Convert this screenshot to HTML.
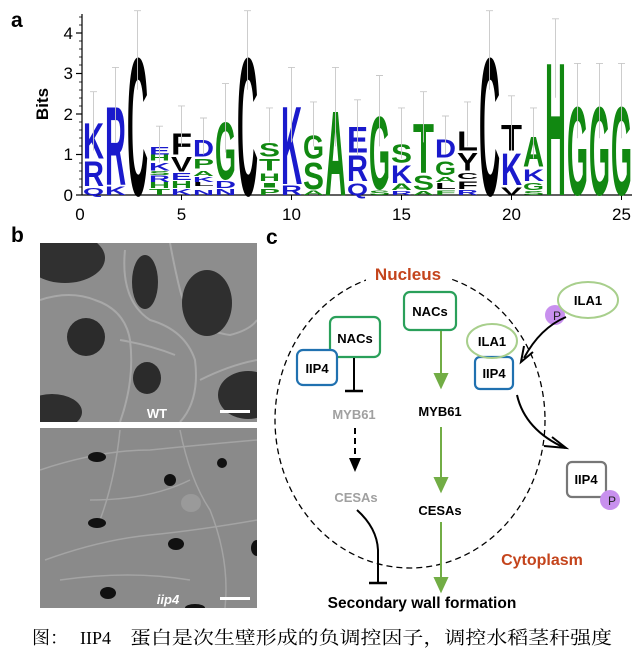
<!DOCTYPE html>
<html><head><meta charset="utf-8"><style>
html,body{margin:0;padding:0;background:#fff;}
svg{display:block;}
</style></head><body>
<svg width="640" height="658" viewBox="0 0 640 658" xmlns="http://www.w3.org/2000/svg" font-family="Liberation Sans, Arial, sans-serif">
<!-- Panel a -->
<text x="11" y="27" font-size="21" font-weight="bold">a</text>
<text transform="translate(48,104) rotate(-90)" font-size="17" font-weight="bold" text-anchor="middle">Bits</text>
<g stroke="#000" stroke-width="1.2">
<line x1="82" y1="14" x2="82" y2="195"/>
<line x1="82" y1="195" x2="632" y2="195"/>
<line x1="76" y1="195" x2="82" y2="195"/><line x1="76" y1="154.5" x2="82" y2="154.5"/><line x1="76" y1="114" x2="82" y2="114"/><line x1="76" y1="73.5" x2="82" y2="73.5"/><line x1="76" y1="33" x2="82" y2="33"/>
</g>
<g stroke="#000" stroke-width="0.8">
<line x1="79" y1="187" x2="82" y2="187"/><line x1="79" y1="179" x2="82" y2="179"/><line x1="79" y1="171" x2="82" y2="171"/><line x1="79" y1="163" x2="82" y2="163"/>
<line x1="79" y1="146" x2="82" y2="146"/><line x1="79" y1="138" x2="82" y2="138"/><line x1="79" y1="130" x2="82" y2="130"/><line x1="79" y1="122" x2="82" y2="122"/>
<line x1="79" y1="106" x2="82" y2="106"/><line x1="79" y1="98" x2="82" y2="98"/><line x1="79" y1="90" x2="82" y2="90"/><line x1="79" y1="82" x2="82" y2="82"/>
<line x1="79" y1="65" x2="82" y2="65"/><line x1="79" y1="57" x2="82" y2="57"/><line x1="79" y1="49" x2="82" y2="49"/><line x1="79" y1="41" x2="82" y2="41"/>
<line x1="79" y1="25" x2="82" y2="25"/><line x1="79" y1="17" x2="82" y2="17"/>
</g>
<g font-size="17" text-anchor="end"><text x="73" y="201">0</text><text x="73" y="160">1</text><text x="73" y="120">2</text><text x="73" y="79">3</text><text x="73" y="39">4</text></g>
<g stroke="#000" stroke-width="1">
<line x1="181.5" y1="195" x2="181.5" y2="200"/><line x1="291.5" y1="195" x2="291.5" y2="200"/><line x1="401.5" y1="195" x2="401.5" y2="200"/><line x1="511.5" y1="195" x2="511.5" y2="200"/><line x1="621.5" y1="195" x2="621.5" y2="200"/>
</g>
<g font-size="17" text-anchor="middle"><text x="80" y="220">0</text><text x="181.5" y="220">5</text><text x="291.5" y="220">10</text><text x="401.5" y="220">15</text><text x="511.5" y="220">20</text><text x="621.5" y="220">25</text></g>

<g font-weight="bold">
<text x="83" y="195" font-size="10.1" textLength="21" lengthAdjust="spacingAndGlyphs" fill="#1a1acc">Q</text>
<text x="83" y="186.1" font-size="35.4" textLength="21" lengthAdjust="spacingAndGlyphs" fill="#1a1acc">R</text>
<text x="83" y="158.5" font-size="50.6" textLength="21" lengthAdjust="spacingAndGlyphs" fill="#1a1acc">K</text>
<text x="105" y="195" font-size="12.4" textLength="21" lengthAdjust="spacingAndGlyphs" fill="#1a1acc">K</text>
<text x="105" y="184.9" font-size="112.5" textLength="21" lengthAdjust="spacingAndGlyphs" fill="#1a1acc">R</text>
<text x="127" y="195" font-size="197" textLength="21" lengthAdjust="spacingAndGlyphs" fill="#000">C</text>
<text x="149" y="195" font-size="8.4" textLength="21" lengthAdjust="spacingAndGlyphs" fill="#118811">T</text>
<text x="149" y="188.1" font-size="8.4" textLength="21" lengthAdjust="spacingAndGlyphs" fill="#118811">H</text>
<text x="149" y="182.1" font-size="9.6" textLength="21" lengthAdjust="spacingAndGlyphs" fill="#1a1acc">R</text>
<text x="149" y="174.8" font-size="5.6" textLength="21" lengthAdjust="spacingAndGlyphs" fill="#118811">S</text>
<text x="149" y="170.7" font-size="11.2" textLength="21" lengthAdjust="spacingAndGlyphs" fill="#1a1acc">K</text>
<text x="149" y="160.6" font-size="8.4" textLength="21" lengthAdjust="spacingAndGlyphs" fill="#118811">H</text>
<text x="149" y="154.5" font-size="11.2" textLength="21" lengthAdjust="spacingAndGlyphs" fill="#1a1acc">E</text>
<text x="171" y="195" font-size="8.4" textLength="21" lengthAdjust="spacingAndGlyphs" fill="#1a1acc">K</text>
<text x="171" y="188.1" font-size="10.1" textLength="21" lengthAdjust="spacingAndGlyphs" fill="#118811">H</text>
<text x="171" y="180" font-size="10.1" textLength="21" lengthAdjust="spacingAndGlyphs" fill="#1a1acc">E</text>
<text x="171" y="171.5" font-size="20.8" textLength="21" lengthAdjust="spacingAndGlyphs" fill="#000">V</text>
<text x="171" y="154.5" font-size="30.9" textLength="21" lengthAdjust="spacingAndGlyphs" fill="#000">F</text>
<text x="193" y="195" font-size="7.3" textLength="21" lengthAdjust="spacingAndGlyphs" fill="#1a1acc">N</text>
<text x="193" y="186.1" font-size="5.6" textLength="21" lengthAdjust="spacingAndGlyphs" fill="#000">L</text>
<text x="193" y="182" font-size="7.3" textLength="21" lengthAdjust="spacingAndGlyphs" fill="#1a1acc">K</text>
<text x="193" y="176" font-size="7.3" textLength="21" lengthAdjust="spacingAndGlyphs" fill="#118811">A</text>
<text x="193" y="168.7" font-size="14.1" textLength="21" lengthAdjust="spacingAndGlyphs" fill="#118811">P</text>
<text x="193" y="156.5" font-size="24.2" textLength="21" lengthAdjust="spacingAndGlyphs" fill="#1a1acc">D</text>
<text x="215" y="195" font-size="8.4" textLength="21" lengthAdjust="spacingAndGlyphs" fill="#1a1acc">N</text>
<text x="215" y="188.1" font-size="10.1" textLength="21" lengthAdjust="spacingAndGlyphs" fill="#1a1acc">D</text>
<text x="215" y="178.8" font-size="82" textLength="21" lengthAdjust="spacingAndGlyphs" fill="#118811">G</text>
<text x="237" y="195" font-size="197" textLength="21" lengthAdjust="spacingAndGlyphs" fill="#000">C</text>
<text x="259" y="195" font-size="8.4" textLength="21" lengthAdjust="spacingAndGlyphs" fill="#118811">P</text>
<text x="259" y="187.7" font-size="6.7" textLength="21" lengthAdjust="spacingAndGlyphs" fill="#118811">I</text>
<text x="259" y="180.8" font-size="11.2" textLength="21" lengthAdjust="spacingAndGlyphs" fill="#118811">H</text>
<text x="259" y="170.7" font-size="16.9" textLength="21" lengthAdjust="spacingAndGlyphs" fill="#118811">T</text>
<text x="259" y="156.5" font-size="19.7" textLength="21" lengthAdjust="spacingAndGlyphs" fill="#118811">S</text>
<text x="281" y="195" font-size="14.1" textLength="21" lengthAdjust="spacingAndGlyphs" fill="#1a1acc">R</text>
<text x="281" y="184.1" font-size="111.4" textLength="21" lengthAdjust="spacingAndGlyphs" fill="#1a1acc">K</text>
<text x="303" y="195" font-size="6.7" textLength="21" lengthAdjust="spacingAndGlyphs" fill="#118811">A</text>
<text x="303" y="188.9" font-size="38" textLength="21" lengthAdjust="spacingAndGlyphs" fill="#118811">S</text>
<text x="303" y="158.5" font-size="33" textLength="21" lengthAdjust="spacingAndGlyphs" fill="#118811">G</text>
<text x="325" y="195" font-size="120.9" textLength="21" lengthAdjust="spacingAndGlyphs" fill="#118811">A</text>
<text x="347" y="195" font-size="16.9" textLength="21" lengthAdjust="spacingAndGlyphs" fill="#1a1acc">Q</text>
<text x="347" y="180.8" font-size="36.6" textLength="21" lengthAdjust="spacingAndGlyphs" fill="#1a1acc">R</text>
<text x="347" y="152.5" font-size="36.6" textLength="21" lengthAdjust="spacingAndGlyphs" fill="#1a1acc">E</text>
<text x="369" y="195" font-size="6.7" textLength="21" lengthAdjust="spacingAndGlyphs" fill="#118811">S</text>
<text x="369" y="188.9" font-size="104" textLength="21" lengthAdjust="spacingAndGlyphs" fill="#118811">G</text>
<text x="391" y="195" font-size="5.6" textLength="21" lengthAdjust="spacingAndGlyphs" fill="#1a1acc">R</text>
<text x="391" y="190.1" font-size="9" textLength="21" lengthAdjust="spacingAndGlyphs" fill="#118811">A</text>
<text x="391" y="182.9" font-size="25.3" textLength="21" lengthAdjust="spacingAndGlyphs" fill="#1a1acc">K</text>
<text x="391" y="162.6" font-size="26" textLength="21" lengthAdjust="spacingAndGlyphs" fill="#118811">S</text>
<text x="413" y="195" font-size="5.6" textLength="21" lengthAdjust="spacingAndGlyphs" fill="#118811">A</text>
<text x="413" y="190.1" font-size="21" textLength="21" lengthAdjust="spacingAndGlyphs" fill="#118811">S</text>
<text x="413" y="172.7" font-size="70.3" textLength="21" lengthAdjust="spacingAndGlyphs" fill="#118811">T</text>
<text x="435" y="195" font-size="6.7" textLength="21" lengthAdjust="spacingAndGlyphs" fill="#118811">F</text>
<text x="435" y="188.9" font-size="8.4" textLength="21" lengthAdjust="spacingAndGlyphs" fill="#000">L</text>
<text x="435" y="182" font-size="7.3" textLength="21" lengthAdjust="spacingAndGlyphs" fill="#118811">A</text>
<text x="435" y="174.8" font-size="19.2" textLength="21" lengthAdjust="spacingAndGlyphs" fill="#118811">G</text>
<text x="435" y="157.7" font-size="25.9" textLength="21" lengthAdjust="spacingAndGlyphs" fill="#1a1acc">D</text>
<text x="457" y="195" font-size="7.3" textLength="21" lengthAdjust="spacingAndGlyphs" fill="#1a1acc">R</text>
<text x="457" y="188.9" font-size="11.2" textLength="21" lengthAdjust="spacingAndGlyphs" fill="#000">F</text>
<text x="457" y="178.8" font-size="8.4" textLength="21" lengthAdjust="spacingAndGlyphs" fill="#000">C</text>
<text x="457" y="170.7" font-size="25.3" textLength="21" lengthAdjust="spacingAndGlyphs" fill="#000">Y</text>
<text x="457" y="150.5" font-size="28.1" textLength="21" lengthAdjust="spacingAndGlyphs" fill="#000">L</text>
<text x="479" y="195" font-size="197" textLength="21" lengthAdjust="spacingAndGlyphs" fill="#000">C</text>
<text x="501" y="195" font-size="11.2" textLength="21" lengthAdjust="spacingAndGlyphs" fill="#000">V</text>
<text x="501" y="184.9" font-size="45" textLength="21" lengthAdjust="spacingAndGlyphs" fill="#1a1acc">K</text>
<text x="501" y="150.5" font-size="36.6" textLength="21" lengthAdjust="spacingAndGlyphs" fill="#000">T</text>
<text x="523" y="195" font-size="5.6" textLength="21" lengthAdjust="spacingAndGlyphs" fill="#118811">S</text>
<text x="523" y="190.1" font-size="10.1" textLength="21" lengthAdjust="spacingAndGlyphs" fill="#118811">G</text>
<text x="523" y="180.8" font-size="16.9" textLength="21" lengthAdjust="spacingAndGlyphs" fill="#1a1acc">K</text>
<text x="523" y="166.6" font-size="42.2" textLength="21" lengthAdjust="spacingAndGlyphs" fill="#118811">A</text>
<text x="545" y="195" font-size="190" textLength="21" lengthAdjust="spacingAndGlyphs" fill="#118811">H</text>
<text x="567" y="195" font-size="126" textLength="21" lengthAdjust="spacingAndGlyphs" fill="#118811">G</text>
<text x="589" y="195" font-size="126" textLength="21" lengthAdjust="spacingAndGlyphs" fill="#118811">G</text>
<text x="611" y="195" font-size="126" textLength="21" lengthAdjust="spacingAndGlyphs" fill="#118811">G</text>
</g>
<g stroke="#c8c8c8" stroke-width="0.9">
<path d="M93.5 150.5V91.7M90 91.7h7 M115.5 142.4V67.4M112 67.4h7 M137.5 89.7V10.7M134 10.7h7 M159.5 162.6V126.2M156 126.2h7 M181.5 146.4V105.9M178 105.9h7 M203.5 154.5V118M200 118h7 M225.5 152.5V83.6M222 83.6h7 M247.5 89.7V10.7M244 10.7h7 M269.5 142.4V107.9M266 107.9h7 M291.5 142.4V67.4M288 67.4h7 M313.5 146.4V101.9M310 101.9h7 M335.5 146.4V67.4M332 67.4h7 M357.5 154.5V99.8M354 99.8h7 M379.5 146.4V75.5M376 75.5h7 M401.5 158.5V107.9M398 107.9h7 M423.5 142.4V91.7M420 91.7h7 M445.5 154.5V116M442 116h7 M467.5 146.4V101.9M464 101.9h7 M489.5 89.7V10.7M486 10.7h7 M511.5 150.5V95.8M508 95.8h7 M533.5 158.5V107.9M530 107.9h7 M555.5 97.8V18.8M552 18.8h7 M577.5 138.3V63.4M574 63.4h7 M599.5 138.3V63.4M596 63.4h7 M621.5 138.3V63.4M618 63.4h7" fill="none"/>
</g>

<!-- Panel b -->
<text x="11" y="242" font-size="21" font-weight="bold">b</text>
<defs>
<clipPath id="c1"><rect x="40" y="243" width="217" height="179"/></clipPath>
<clipPath id="c2"><rect x="40" y="428" width="217" height="180"/></clipPath>
</defs>
<g clip-path="url(#c1)">
<rect x="40" y="243" width="217" height="179" fill="#8d8d8d"/>
<g fill="none" stroke="#a8a8a8" stroke-width="2">
<path d="M40 300 Q70 290 95 300 Q125 310 130 340 Q135 380 120 422"/>
<path d="M125 250 Q120 300 150 320 Q185 330 195 360 Q200 400 180 422"/>
<path d="M170 243 Q175 270 180 290 Q190 330 230 335 Q250 330 257 320"/>
<path d="M120 340 Q150 345 175 355"/>
<path d="M200 380 Q230 365 257 360"/>
</g>
<ellipse cx="65" cy="258" rx="40" ry="25" fill="#303030"/>
<ellipse cx="145" cy="282" rx="13" ry="27" fill="#2d2d2d"/>
<ellipse cx="207" cy="303" rx="25" ry="33" fill="#2f2f2f"/>
<ellipse cx="86" cy="337" rx="19" ry="19" fill="#2b2b2b"/>
<ellipse cx="147" cy="378" rx="14" ry="16" fill="#2b2b2b"/>
<ellipse cx="248" cy="395" rx="30" ry="24" fill="#2e2e2e"/>
<ellipse cx="52" cy="412" rx="30" ry="18" fill="#2e2e2e"/>
<text x="157" y="418" font-size="13" font-weight="bold" fill="#fff" text-anchor="middle">WT</text>
<rect x="220" y="410" width="30" height="3" fill="#fff"/>
</g>
<g clip-path="url(#c2)">
<rect x="40" y="428" width="217" height="180" fill="#8a8a8a"/>
<g fill="none" stroke="#a4a4a4" stroke-width="1.5">
<path d="M40 470 Q100 450 150 450 Q200 445 257 440"/>
<path d="M90 500 Q150 500 190 480"/>
<path d="M45 560 Q100 540 150 535 Q200 530 257 520"/>
<path d="M180 430 Q190 480 210 510 Q230 560 225 608"/>
<path d="M120 430 Q115 480 100 520"/>
<path d="M60 580 Q130 570 190 580"/>
</g>
<ellipse cx="191" cy="503" rx="10" ry="9" fill="#9a9a9a"/>
<ellipse cx="97" cy="457" rx="9" ry="5" fill="#111"/>
<ellipse cx="170" cy="480" rx="6" ry="6" fill="#111"/>
<ellipse cx="222" cy="463" rx="5" ry="5" fill="#111"/>
<ellipse cx="97" cy="523" rx="9" ry="5" fill="#111"/>
<ellipse cx="176" cy="544" rx="8" ry="6" fill="#111"/>
<ellipse cx="257" cy="548" rx="6" ry="8" fill="#111"/>
<ellipse cx="108" cy="593" rx="8" ry="6" fill="#111"/>
<ellipse cx="195" cy="608" rx="10" ry="4" fill="#111"/>
<text x="168" y="604" font-size="13" font-weight="bold" font-style="italic" fill="#fff" text-anchor="middle">iip4</text>
<rect x="220" y="597" width="30" height="3" fill="#fff"/>
</g>

<!-- Panel c -->
<text x="266" y="244" font-size="21" font-weight="bold">c</text>
<ellipse cx="410" cy="420" rx="135" ry="148" fill="none" stroke="#000" stroke-width="1.3" stroke-dasharray="6,4"/>
<rect x="366" y="263" width="84" height="20" fill="#fff"/>
<text x="408" y="280" font-size="17" font-weight="bold" fill="#c4441c" text-anchor="middle">Nucleus</text>

<rect x="404" y="292" width="52" height="38" rx="6" fill="#fff" stroke="#2aa05a" stroke-width="2.2"/>
<text x="430" y="316" font-size="13" font-weight="bold" text-anchor="middle">NACs</text>

<rect x="330" y="317" width="50" height="40" rx="6" fill="#fff" stroke="#2aa05a" stroke-width="2.2"/>
<text x="355" y="343" font-size="13" font-weight="bold" text-anchor="middle">NACs</text>
<rect x="297" y="350" width="40" height="35" rx="6" fill="#fff" stroke="#2071b0" stroke-width="2.2"/>
<text x="317" y="373" font-size="13" font-weight="bold" text-anchor="middle">IIP4</text>

<line x1="354" y1="358" x2="354" y2="391" stroke="#000" stroke-width="2"/>
<line x1="345" y1="391" x2="363" y2="391" stroke="#000" stroke-width="2.5"/>
<text x="354" y="419" font-size="13" font-weight="bold" fill="#a0a0a0" text-anchor="middle">MYB61</text>
<line x1="355" y1="428" x2="355" y2="460" stroke="#000" stroke-width="2" stroke-dasharray="6,4"/>
<path d="M349 458 L355 472 L361 458 Z" fill="#000"/>
<text x="356" y="502" font-size="13" font-weight="bold" fill="#a0a0a0" text-anchor="middle">CESAs</text>
<path d="M357 510 Q377 528 378 550 L378 583" fill="none" stroke="#000" stroke-width="2"/>
<line x1="369" y1="583" x2="387" y2="583" stroke="#000" stroke-width="2.5"/>

<g stroke="#72ad45" stroke-width="2" fill="#72ad45">
<line x1="441" y1="331" x2="441" y2="376"/>
<path d="M435 374 L441 387 L447 374 Z"/>
<line x1="441" y1="427" x2="441" y2="480"/>
<path d="M435 478 L441 491 L447 478 Z"/>
<line x1="441" y1="522" x2="441" y2="580"/>
<path d="M435 578 L441 591 L447 578 Z"/>
</g>
<text x="440" y="416" font-size="13" font-weight="bold" text-anchor="middle">MYB61</text>
<text x="440" y="515" font-size="13" font-weight="bold" text-anchor="middle">CESAs</text>
<text x="422" y="608" font-size="15.5" font-weight="bold" text-anchor="middle">Secondary wall formation</text>
<text x="542" y="565" font-size="16" font-weight="bold" fill="#c4441c" text-anchor="middle">Cytoplasm</text>

<circle cx="555" cy="315" r="10" fill="#c890ee"/>
<text x="557" y="320" font-size="12" fill="#222" text-anchor="middle">P</text>
<ellipse cx="588" cy="300" rx="30" ry="18" fill="#fff" stroke="#a8cf8c" stroke-width="2"/>
<text x="588" y="305" font-size="13" font-weight="bold" text-anchor="middle">ILA1</text>

<rect x="475" y="357" width="38" height="32" rx="5" fill="#fff" stroke="#2071b0" stroke-width="2.2"/>
<text x="494" y="378" font-size="13" font-weight="bold" text-anchor="middle">IIP4</text>
<ellipse cx="492" cy="341" rx="25" ry="17" fill="none" stroke="#a8cf8c" stroke-width="2"/>
<text x="492" y="346" font-size="13" font-weight="bold" text-anchor="middle">ILA1</text>

<path d="M566 317 Q540 328 524 358" fill="none" stroke="#000" stroke-width="2"/>
<path d="M524 346 L521 362 L533 352" fill="none" stroke="#000" stroke-width="2"/>
<path d="M517 395 Q525 430 565 448" fill="none" stroke="#000" stroke-width="2"/>
<path d="M544 446 L566 448 L552 437" fill="none" stroke="#000" stroke-width="2"/>

<rect x="567" y="462" width="39" height="35" rx="5" fill="#fff" stroke="#777" stroke-width="2.2"/>
<text x="586" y="484" font-size="13" font-weight="bold" text-anchor="middle">IIP4</text>
<circle cx="610" cy="500" r="10" fill="#c890ee"/>
<text x="612" y="505" font-size="12" fill="#222" text-anchor="middle">P</text>

<!-- caption -->
<g font-family="Liberation Serif, Noto Serif CJK SC, serif" font-size="18">
<text x="32" y="644">图：</text>
<text x="80" y="644">IIP4</text>
<text x="130" y="644" textLength="482" lengthAdjust="spacingAndGlyphs">蛋白是次生壁形成的负调控因子，调控水稻茎秆强度</text>
</g>
</svg>
</body></html>
